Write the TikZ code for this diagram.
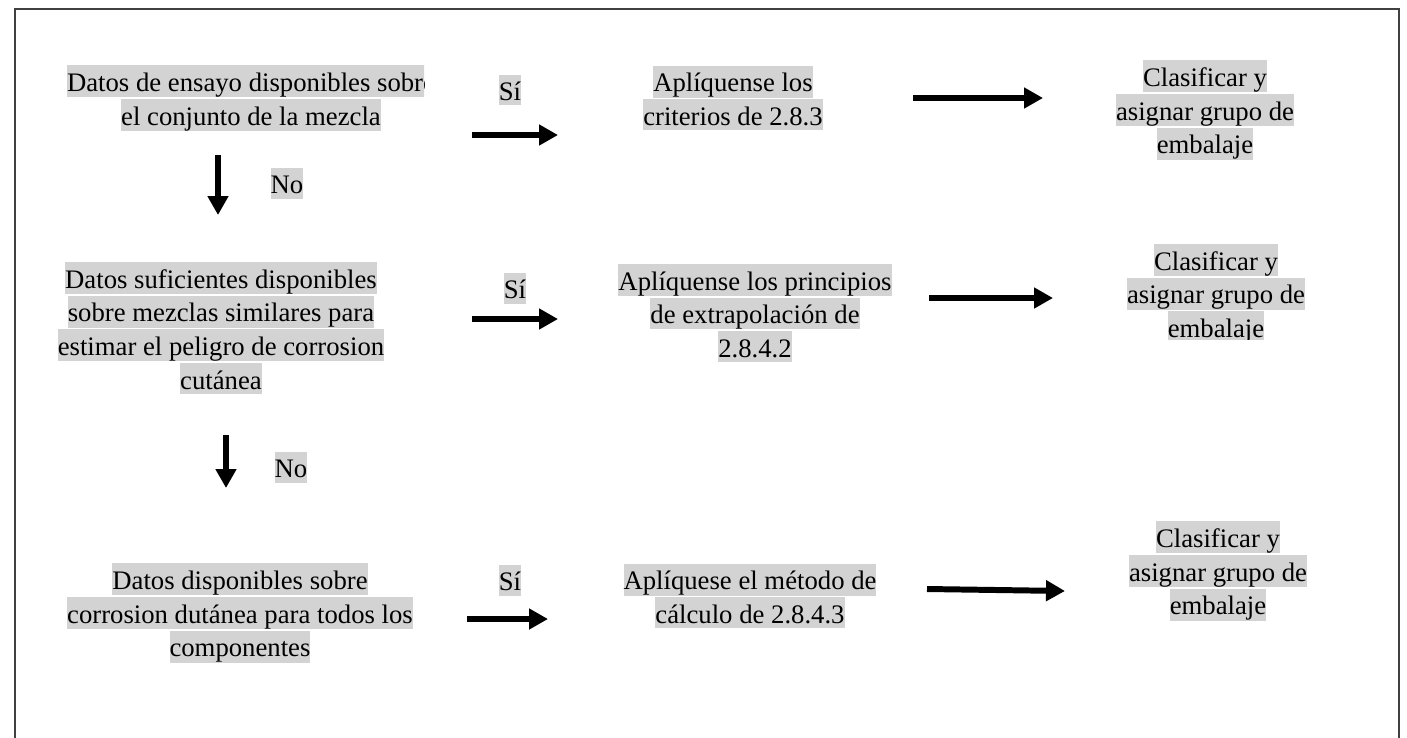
\documentclass[tikz,border=0pt]{standalone}
\usepackage{fontspec}
\setmainfont{Liberation Serif}
\usepackage{xcolor}
\usepackage{tikz}
\usetikzlibrary{arrows.meta, positioning}
\definecolor{hlgray}{HTML}{D3D3D3}
\definecolor{framegray}{HTML}{404040}
\newcommand{\hl}[1]{{\setlength{\fboxsep}{0pt}\colorbox{hlgray}{\rule[-0.18em]{0pt}{1.16em}#1}}}

\begin{document}
\begin{tikzpicture}[
  every node/.style={font=\fontsize{15.2pt}{17.64pt}\selectfont,
                     inner sep=0pt, align=center},
  txt/.style={text=black},
  lbl/.style={text=black},
  arr/.style={-{Triangle[length=0.38cm,width=0.40cm]}, line width=3.4pt}
]
\useasboundingbox (0,0) rectangle (28.14,-14.74);
\draw[framegray, line width=0.8pt] (0.30,-0.18) rectangle (27.98,-15.0);

%% ─── left column: questions ────────────────────────────────────────────────
\begin{scope}
  \clip (0,0) rectangle (8.48,-4);
  \node[txt] (r1_q) at (5.02,-1.96)
    {\hl{Datos de ensayo disponibles sobre}\\\hl{el conjunto de la mezcla}};
\end{scope}
\node[txt] (r2_q) at (4.42,-6.56)
  {\hl{Datos suficientes disponibles}\\\hl{sobre mezclas similares para}\\
   \hl{estimar el peligro de corrosion}\\\hl{cutánea}};
\node[txt] (r3_q) at (4.80,-12.26)
  {\hl{Datos disponibles sobre}\\\hl{corrosion dutánea para todos los}\\
   \hl{componentes}};

\node[lbl] (no1) at (5.74,-3.66)  {\hl{No}};
\node[lbl] (no2) at (5.82,-9.34)  {\hl{No}};

\coordinate (d1_a) at (4.36,-3.10);
\coordinate (d1_b) at (4.36,-4.30);
\coordinate (d2_a) at (4.52,-8.70);
\coordinate (d2_b) at (4.52,-9.76);
\draw[arr] (d1_a)--(d1_b);
\draw[arr] (d2_a)--(d2_b);

%% ─── middle column: methods ────────────────────────────────────────────────
\node[lbl] (r1_si) at (10.20,-1.80)  {\hl{Sí}};
\node[lbl] (r2_si) at (10.30,-5.76)  {\hl{Sí}};
\node[lbl] (r3_si) at (10.20,-11.60) {\hl{Sí}};

\node[txt] (r1_ap) at (14.66,-1.96)
  {\hl{Aplíquense los}\\\hl{criterios de 2.8.3}};
\node[txt] (r2_ap) at (15.10,-6.26)
  {\hl{Aplíquense los principios}\\\hl{de extrapolación de}\\\hl{2.8.4.2}};
\node[txt] (r3_ap) at (15.00,-11.92)
  {\hl{Aplíquese el método de}\\\hl{cálculo de 2.8.4.3}};

\coordinate (s1_a) at (9.44,-2.70);
\coordinate (s1_b) at (11.16,-2.70);
\coordinate (s2_a) at (9.44,-6.38);
\coordinate (s2_b) at (11.16,-6.38);
\coordinate (s3_a) at (9.34,-12.38);
\coordinate (s3_b) at (10.96,-12.38);
\foreach \a/\b in {s1_a/s1_b, s2_a/s2_b, s3_a/s3_b}
  \draw[arr] (\a)--(\b);

%% ─── right column: classification ──────────────────────────────────────────
\node[txt] (r1_cl) at (24.10,-2.20)
  {\hl{Clasificar y}\\\hl{asignar grupo de}\\\hl{embalaje}};
\begin{scope}
  \clip (20,-4) rectangle (28,-6.78);
  \node[txt] (r2_cl) at (24.32,-5.87)
    {\hl{Clasificar y}\\\hl{asignar grupo de}\\\hl{embalaje}};
\end{scope}
\node[txt] (r3_cl) at (24.36,-11.42)
  {\hl{Clasificar y}\\\hl{asignar grupo de}\\\hl{embalaje}};

\coordinate (c1_a) at (18.26,-1.96);
\coordinate (c1_b) at (20.86,-1.96);
\coordinate (c2_a) at (18.58,-5.96);
\coordinate (c2_b) at (21.06,-5.96);
\coordinate (c3_a) at (18.54,-11.78);
\coordinate (c3_b) at (21.30,-11.82);
\foreach \a/\b in {c1_a/c1_b, c2_a/c2_b, c3_a/c3_b}
  \draw[arr] (\a)--(\b);

\end{tikzpicture}
\end{document}
